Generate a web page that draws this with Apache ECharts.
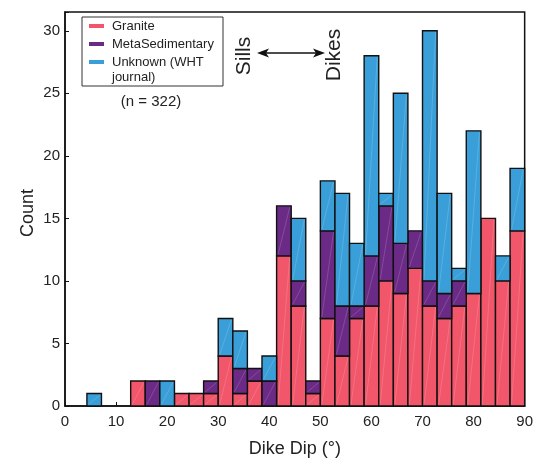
<!DOCTYPE html>
<html>
<head>
<meta charset="utf-8">
<script src="https://cdn.jsdelivr.net/npm/echarts@6/dist/echarts.min.js"></script>
<style>html,body{margin:0;padding:0;background:#fff}#c{width:536px;height:463px}</style>
</head>
<body>
<div id="c"></div>
<script>
// Bin edges (degrees)
const binEdges = [1.43, 4.29, 7.14, 10, 12.86, 15.71, 18.57, 21.43, 24.29, 27.14, 30, 32.86, 35.71, 38.57, 41.43, 44.29, 47.14, 50, 52.86, 55.71, 58.57, 61.43, 64.29, 67.14, 70, 72.86, 75.71, 78.57, 81.43, 84.29, 87.14, 90];
// Counts per bin (stacked: Granite bottom, MetaSedimentary middle, Unknown top)
const granite = [0,0,0,0,2,0,0,1,1,1,4,1,2,0,12,8,1,7,4,7,8,10,9,11,8,7,8,9,15,10,14];
const metaSed = [0,0,0,0,0,2,0,0,0,1,0,2,1,2,4,2,1,7,4,1,4,6,4,3,2,2,2,0,0,0,0];
const unknown = [0,1,0,0,0,0,2,0,0,0,3,3,0,2,0,5,0,4,9,5,16,1,12,0,20,8,1,13,0,2,5];
const seriesNames = ['Granite', 'MetaSedimentary', 'Unknown (WHT journal)'];
const xTicks = [0, 10, 20, 30, 40, 50, 60, 70, 80, 90];
const yTicks = [0, 5, 10, 15, 20, 25, 30];
const colors = ['#f1566a', '#6b2a85', '#3a9fd8'];

const FONT = 'Liberation Sans';
const allSeries = [granite, metaSed, unknown];
const base = granite.map(() => 0);
const series = allSeries.map((vals, si) => {
  const data = [];
  vals.forEach((v, i) => {
    if (v > 0) data.push([binEdges[i], binEdges[i + 1], base[i], base[i] + v]);
    base[i] += v;
  });
  return {
    type: 'custom',
    name: seriesNames[si],
    data: data,
    encode: { x: [0, 1], y: [2, 3] },
    renderItem: function (params, api) {
      const p0 = api.coord([api.value(0), api.value(2)]);
      const p1 = api.coord([api.value(1), api.value(3)]);
      const x = p0[0], y = p1[1], w = p1[0] - p0[0], h = p0[1] - p1[1];
      return {
        type: 'group',
        children: [
          { type: 'rect', shape: { x: x, y: y, width: w, height: h },
            style: { fill: colors[si], stroke: '#111', lineWidth: 1.4 } },
          { type: 'line', shape: { x1: x + 1.5, y1: y + h - 1.5, x2: x + w - 1.5, y2: y + 1.5 },
            style: { stroke: 'rgba(255,255,255,0.2)', lineWidth: 0.8 } }
        ]
      };
    }
  };
});

const chart = echarts.init(document.getElementById('c'), null, { renderer: 'canvas' });
const textColor = '#222';
chart.setOption({
  animation: false,
  backgroundColor: '#fff',
  grid: { left: 65, right: 10, top: 12, bottom: 48, show: true, borderColor: '#111', borderWidth: 1.5, backgroundColor: 'transparent' },
  xAxis: {
    type: 'value', min: xTicks[0], max: xTicks[xTicks.length - 1], interval: 10,
    name: 'Dike Dip (°)', nameLocation: 'middle', nameGap: 34,
    nameTextStyle: { fontFamily: FONT, fontSize: 18, color: textColor },
    axisLine: { lineStyle: { color: '#111', width: 1.5 } },
    axisTick: { inside: true, length: 4, lineStyle: { color: '#111' } },
    axisLabel: { fontFamily: FONT, fontSize: 15, color: textColor, margin: 8 },
    splitLine: { show: false }
  },
  yAxis: {
    type: 'value', min: 0, max: 31.5, interval: 5,
    axisLine: { show: true, lineStyle: { color: '#111', width: 1.5 } },
    axisTick: { show: true, inside: true, length: 4, lineStyle: { color: '#111' } },
    axisLabel: { fontFamily: FONT, fontSize: 15, color: textColor, margin: 5,
      formatter: v => (yTicks.indexOf(v) >= 0 ? String(v) : '') },
    splitLine: { show: false }
  },
  series: series,
  graphic: [
    { type: 'text', x: 28, y: 213, rotation: Math.PI / 2, z: 101, style: { text: 'Count', font: '18px ' + FONT, fill: textColor, textAlign: 'center', textVerticalAlign: 'middle' } },
    { type: 'rect', shape: { x: 82, y: 17, width: 141, height: 69 },
      style: { fill: '#fff', stroke: '#333', lineWidth: 1 }, z: 100 },
    { type: 'line', shape: { x1: 89, y1: 26, x2: 104, y2: 26 }, style: { stroke: colors[0], lineWidth: 4 }, z: 101 },
    { type: 'line', shape: { x1: 89, y1: 44, x2: 104, y2: 44 }, style: { stroke: colors[1], lineWidth: 4 }, z: 101 },
    { type: 'line', shape: { x1: 89, y1: 62, x2: 104, y2: 62 }, style: { stroke: colors[2], lineWidth: 4 }, z: 101 },
    { type: 'text', x: 112, y: 26, z: 101, style: { text: 'Granite', font: '13px ' + FONT, fill: textColor, textVerticalAlign: 'middle' } },
    { type: 'text', x: 112, y: 44, z: 101, style: { text: 'MetaSedimentary', font: '13px ' + FONT, fill: textColor, textVerticalAlign: 'middle' } },
    { type: 'text', x: 112, y: 62, z: 101, style: { text: 'Unknown (WHT', font: '13px ' + FONT, fill: textColor, textVerticalAlign: 'middle' } },
    { type: 'text', x: 112, y: 77.5, z: 101, style: { text: 'journal)', font: '13px ' + FONT, fill: textColor, textVerticalAlign: 'middle' } },
    { type: 'text', x: 151, y: 102, z: 101, style: { text: '(n = 322)', font: '15px ' + FONT, fill: textColor, textAlign: 'center', textVerticalAlign: 'middle' } },
    { type: 'text', x: 244, y: 56, rotation: Math.PI / 2, z: 101, style: { text: 'Sills', font: '21px ' + FONT, fill: textColor, textAlign: 'center', textVerticalAlign: 'middle' } },
    { type: 'text', x: 334, y: 55, rotation: Math.PI / 2, z: 101, style: { text: 'Dikes', font: '21px ' + FONT, fill: textColor, textAlign: 'center', textVerticalAlign: 'middle' } },
    { type: 'line', shape: { x1: 262, y1: 53, x2: 320, y2: 53 }, style: { stroke: '#111', lineWidth: 1.4 }, z: 101 },
    { type: 'polygon', shape: { points: [[257, 53], [269, 48.5], [266, 53], [269, 57.5]] }, style: { fill: '#111' }, z: 101 },
    { type: 'polygon', shape: { points: [[325, 53], [313, 48.5], [316, 53], [313, 57.5]] }, style: { fill: '#111' }, z: 101 }
  ]
});
</script>
</body>
</html>
